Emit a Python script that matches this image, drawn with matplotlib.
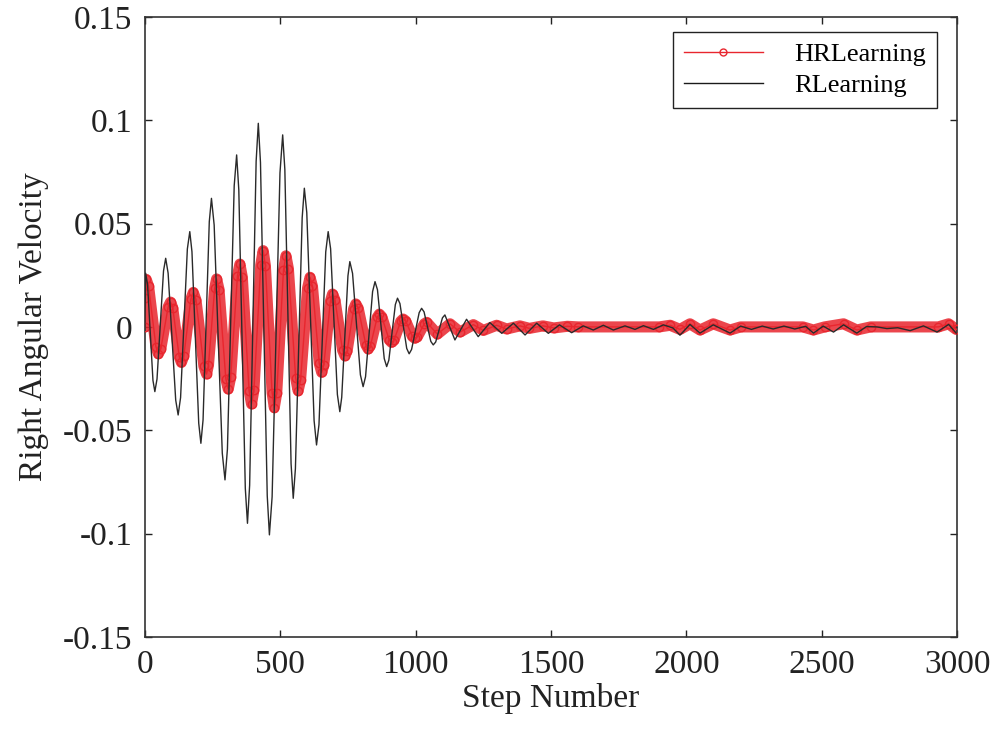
import numpy as np
import matplotlib.pyplot as plt
from matplotlib.lines import Line2D

# RLearning (black)
rl_step = [0, 3, 10, 30, 37, 45, 69, 77, 86, 114, 123, 132, 157, 166, 174,
           199, 207, 215, 238, 246, 256, 286, 296, 305, 330, 339, 347, 371,
           379, 387, 411, 419, 427, 452, 460, 470, 499, 509, 517, 540, 548,
           556, 581, 589, 598, 625, 634, 643, 668, 677, 686, 711, 720, 727,
           750, 757, 767, 796, 806, 815, 841, 850, 859, 884, 893, 901, 925,
           933, 942, 967, 976, 985, 1013, 1022, 1031, 1056, 1065, 1074, 1099,
           1108, 1145, 1188, 1231, 1274, 1318, 1361, 1404, 1447, 1490, 1531,
           1576, 1619, 1656, 1693, 1730, 1773, 1810, 1841, 1878, 1915, 1950,
           1976, 2013, 2050, 2099, 2161, 2200, 2240, 2280, 2320, 2360, 2400,
           2440, 2469, 2505, 2543, 2580, 2629, 2665, 2703, 2740, 2780, 2826,
           2875, 2925, 2968, 2996]
rl_val = [0.0, 0.026, 0.0206, -0.0259, -0.0313, -0.0252, 0.0271, 0.0332,
          0.0260, -0.0354, -0.0426, -0.0342, 0.0377, 0.0461, 0.0364, -0.0466,
          -0.0563, -0.0450, 0.0509, 0.0622, 0.0493, -0.0611, -0.0740, -0.0591,
          0.0683, 0.0832, 0.0663, -0.0781, -0.0950, -0.0766, 0.0801, 0.0985,
          0.0796, -0.0817, -0.1006, -0.0822, 0.0745, 0.0929, 0.0762, -0.0662,
          -0.0829, -0.0686, 0.0528, 0.0671, 0.0553, -0.0453, -0.0571, -0.0473,
          0.0363, 0.0461, 0.0378, -0.0327, -0.0410, -0.0341, 0.0247, 0.0316,
          0.0259, -0.0232, -0.0289, -0.0241, 0.0171, 0.0219, 0.0180, -0.0153,
          -0.0192, -0.0161, 0.0108, 0.0139, 0.0113, -0.0104, -0.0130, -0.0109,
          0.0069, 0.0090, 0.0073, -0.0070, -0.0087, -0.0073, 0.0044, 0.0058,
          -0.0063, 0.0037, -0.0047, 0.0021, -0.0031, 0.0018, -0.0039, 0.0018,
          -0.0031, 0.0010, -0.0028, 0.0005, -0.0015, 0.0008, -0.0015, 0.0005,
          -0.0012, 0.0006, -0.0012, 0.0010, -0.0005, -0.0040, 0.0012, -0.0030,
          0.0010, -0.0030, 0.0004, -0.0012, 0.0004, -0.0010, 0.0004, -0.0010,
          0.0003, -0.0030, 0.0004, -0.0025, 0.0010, -0.0030, 0.0002, 0.0000,
          -0.0008, -0.0004, -0.0018, 0.0005, -0.0025, 0.0012, -0.0030]

# HRLearning (red)
hr_step = [0, 2, 5, 14, 41, 50, 59, 86, 95, 103, 127, 135, 144, 170, 179,
           189, 218, 228, 235, 258, 265, 274, 299, 308, 317, 342, 351, 360,
           385, 394, 403, 428, 437, 445, 470, 478, 487, 512, 521, 530, 557,
           566, 575, 601, 610, 619, 644, 653, 661, 685, 693, 702, 730, 739,
           747, 771, 779, 788, 816, 825, 833, 858, 866, 875, 902, 911, 920,
           945, 954, 963, 988, 997, 1006, 1032, 1041, 1080, 1127, 1164, 1213,
           1250, 1299, 1336, 1385, 1420, 1470, 1510, 1560, 1600, 1900, 1940,
           1976, 2013, 2050, 2099, 2161, 2200, 2430, 2469, 2510, 2580, 2629,
           2680, 2930, 2968, 2996, 3000]
hr_val = [0.0, 0.014, 0.023, 0.0196, -0.0096, -0.013, -0.0106, 0.0096, 0.012,
          0.0092, -0.0144, -0.0172, -0.0140, 0.0135, 0.0167, 0.0129, -0.0190,
          -0.0228, -0.0184, 0.0188, 0.0232, 0.0181, -0.0250, -0.0301, -0.0244,
          0.0247, 0.0304, 0.0240, -0.0309, -0.0373, -0.0303, 0.0299, 0.0369,
          0.0297, -0.0318, -0.0390, -0.0320, 0.0274, 0.0344, 0.0282, -0.0247,
          -0.0309, -0.0257, 0.0188, 0.0240, 0.0196, -0.0176, -0.0220, -0.0184,
          0.0123, 0.0159, 0.0131, -0.0112, -0.0140, -0.0116, 0.0087, 0.0111,
          0.0090, -0.0086, -0.0107, -0.0091, 0.0046, 0.0062, 0.0049, -0.0062,
          -0.0075, -0.0064, 0.0027, 0.0038, 0.0029, -0.0046, -0.0055, -0.0048,
          0.0015, 0.0022, -0.0035, 0.0015, -0.0025, 0.0011, -0.0017, 0.0008,
          -0.0010, 0.0005, -0.0007, 0.0005, -0.0005, 0.0003, 0.0, 0.0, 0.0008,
          -0.0012, 0.0015, -0.0015, 0.0015, -0.0015, 0.0, 0.0, -0.0015, 0.0,
          0.0015, -0.0015, 0.0, 0.0, 0.0015, -0.0012, -0.0010]

x_ticks = [0, 500, 1000, 1500, 2000, 2500, 3000]
y_ticks = [-0.15, -0.1, -0.05, 0, 0.05, 0.1, 0.15]
y_tick_labels = ['-0.15', '-0.1', '-0.05', '0', '0.05', '0.1', '0.15']

red = '#e8262e'

plt.rcParams['font.family'] = ['Liberation Serif', 'DejaVu Serif']

fig = plt.figure(figsize=(9.92, 7.33), dpi=100)
ax = fig.add_axes([0.146, 0.131, 0.819, 0.846])

# red band (dense overlapping markers in the original)
ax.plot(hr_step, hr_val, color=red, lw=8, alpha=0.85, solid_joinstyle='round',
        solid_capstyle='round', zorder=2)
ax.plot(hr_step, hr_val, color=red, lw=1, marker='o', ms=6, mfc='none',
        mec=red, mew=1, zorder=3)
ax.plot(rl_step, rl_val, color='#2a2a2a', lw=1.0, zorder=4)

ax.set_xlim(0, 3000)
ax.set_ylim(-0.15, 0.15)
ax.set_xticks(x_ticks)
ax.set_xticklabels([str(t) for t in x_ticks])
ax.set_yticks(y_ticks)
ax.set_yticklabels(y_tick_labels)
ax.tick_params(direction='in', top=True, right=True, length=5, width=1,
               labelsize=24, pad=9, colors='#222222')
for s in ax.spines.values():
    s.set_color('#333333')
    s.set_linewidth(1.2)

ax.set_xlabel('Step Number', fontsize=24, color='#222222', labelpad=2)
ax.set_ylabel('Right Angular Velocity', fontsize=24, color='#222222', labelpad=10)

handles = [Line2D([], [], color=red, lw=1, marker='o', ms=5, mfc='none', mec=red),
           Line2D([], [], color='#1a1a1a', lw=1)]
leg = ax.legend(handles, ['HRLearning', 'RLearning'], loc='upper right',
                bbox_to_anchor=(0.975, 0.976), borderaxespad=0, fontsize=19,
                fancybox=False, framealpha=1, edgecolor='#222222',
                handlelength=3.0, handletextpad=1.2, labelspacing=0.3,
                borderpad=0.4)
leg.get_frame().set_linewidth(1.0)

fig.savefig('out.png', dpi=100)
